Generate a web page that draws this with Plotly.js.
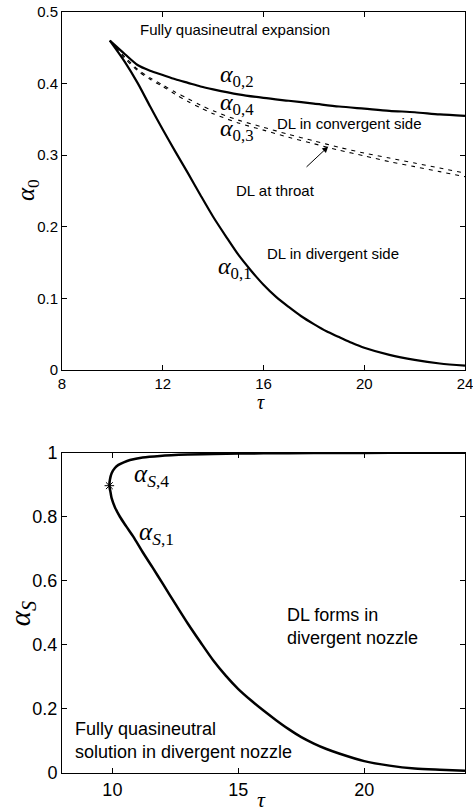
<!DOCTYPE html>
<html>
<head>
<meta charset="utf-8">
<script src="https://cdn.plot.ly/plotly-3.0.1.min.js"></script>
<style>html,body{margin:0;padding:0;background:#fff;}#chart{width:473px;height:812px;}</style>
</head>
<body>
<div id="chart"></div>
<script>
// ---- Top panel data: alpha_0 vs tau ----
const tau02 = [9.9, 10.5, 11, 11.5, 12, 12.5, 13, 13.5, 14, 15, 16, 17, 18, 19, 20, 21, 22, 23, 24];
const alpha02 = [0.460, 0.441, 0.426, 0.418, 0.412, 0.406, 0.401, 0.396, 0.392, 0.385, 0.380, 0.376, 0.372, 0.368, 0.365, 0.362, 0.360, 0.357, 0.355];

const tau04 = [9.9, 10.5, 11, 11.5, 12, 12.5, 13, 13.5, 14, 15, 16, 17, 18, 19, 20, 21, 22, 23, 24];
const alpha04 = [0.460, 0.437, 0.420, 0.408, 0.398, 0.388, 0.379, 0.370, 0.362, 0.349, 0.339, 0.329, 0.320, 0.311, 0.303, 0.296, 0.289, 0.282, 0.275];

const tau03 = [9.9, 10.5, 11, 11.5, 12, 12.5, 13, 13.5, 14, 15, 16, 17, 18, 19, 20, 21, 22, 23, 24];
const alpha03 = [0.460, 0.435, 0.418, 0.406, 0.396, 0.385, 0.375, 0.366, 0.358, 0.345, 0.335, 0.325, 0.316, 0.307, 0.299, 0.291, 0.284, 0.277, 0.270];

const tau01 = [9.9, 10.5, 11, 11.5, 12, 12.5, 13, 13.5, 14, 14.5, 15, 15.5, 16, 16.5, 17, 17.5, 18, 18.5, 19, 19.5, 20, 21, 22, 23, 24];
const alpha01 = [0.460, 0.430, 0.401, 0.368, 0.336, 0.305, 0.275, 0.244, 0.214, 0.187, 0.161, 0.139, 0.119, 0.102, 0.088, 0.075, 0.064, 0.054, 0.046, 0.038, 0.031, 0.021, 0.014, 0.009, 0.006];

// ---- Bottom panel data: alpha_S vs tau ----
const tauS4 = [9.88, 9.9, 9.97, 10.1, 10.24, 10.45, 10.7, 11.2, 11.89, 13.0, 14.0, 16.0, 18.0, 20.0, 22.0, 24.0];
const alphaS4 = [0.897, 0.915, 0.936, 0.952, 0.962, 0.970, 0.977, 0.985, 0.990, 0.994, 0.996, 0.998, 0.999, 0.999, 1.0, 1.0];

const tauS1 = [9.88, 9.93, 9.97, 10.1, 10.3, 10.55, 10.83, 11.2, 11.6, 12.0, 12.5, 13, 13.5, 14, 14.5, 15, 15.5, 16, 16.5, 17, 17.5, 18, 18.5, 19, 20, 21, 22, 23, 24];
const alphaS1 = [0.897, 0.875, 0.858, 0.830, 0.800, 0.770, 0.738, 0.690, 0.641, 0.591, 0.528, 0.466, 0.408, 0.352, 0.304, 0.262, 0.227, 0.195, 0.165, 0.137, 0.112, 0.092, 0.075, 0.061, 0.037, 0.023, 0.014, 0.010, 0.007];

const starTau = [9.88];
const starAlpha = [0.897];

// tick labels
const topXTicks = [8, 12, 16, 20, 24];
const topYTicks = [0, 0.1, 0.2, 0.3, 0.4, 0.5];
const botXTicks = [10, 15, 20];
const botYTicks = [0, 0.2, 0.4, 0.6, 0.8, 1];

const SANS = 'Liberation Sans, Arial, sans-serif';
const SERIF = 'Liberation Serif, Times New Roman, serif';

const solidTop = {color: '#000', width: 2.2, shape: 'spline', smoothing: 0.8};
const dashTop = {color: '#000', width: 1.1, dash: '4px,5px', shape: 'spline', smoothing: 0.8};
const solidBot = {color: '#000', width: 2.5, shape: 'spline', smoothing: 0.8};

const traces = [
  {x: tau02, y: alpha02, xaxis: 'x', yaxis: 'y', mode: 'lines', line: solidTop, name: 'α0,2'},
  {x: tau04, y: alpha04, xaxis: 'x', yaxis: 'y', mode: 'lines', line: dashTop, name: 'α0,4'},
  {x: tau03, y: alpha03, xaxis: 'x', yaxis: 'y', mode: 'lines', line: dashTop, name: 'α0,3'},
  {x: tau01, y: alpha01, xaxis: 'x', yaxis: 'y', mode: 'lines', line: solidTop, name: 'α0,1'},
  {x: tauS4, y: alphaS4, xaxis: 'x2', yaxis: 'y2', mode: 'lines', line: solidBot, name: 'αS,4'},
  {x: tauS1, y: alphaS1, xaxis: 'x2', yaxis: 'y2', mode: 'lines', line: solidBot, name: 'αS,1'},
  {x: starTau, y: starAlpha, xaxis: 'x2', yaxis: 'y2', mode: 'markers', marker: {symbol: 'asterisk-open', size: 8, color: '#000', line: {color: '#000', width: 1}}, name: 'star'}
];

const axisCommon = {
  showline: true, linecolor: '#000', linewidth: 1, mirror: 'ticks',
  ticks: 'inside', ticklen: 5, tickcolor: '#000', tickwidth: 1,
  showgrid: false, zeroline: false, automargin: false, ticklabeloverflow: 'allow'
};

const layout = {
  width: 473, height: 812,
  margin: {l: 62, r: 8, t: 12, b: 39},
  paper_bgcolor: '#fff', plot_bgcolor: '#fff',
  showlegend: false,
  font: {family: SANS, color: '#000'},
  xaxis: Object.assign({}, axisCommon, {
    domain: [0, 1], anchor: 'y', range: [8, 24], tickvals: topXTicks,
    tickfont: {size: 15, family: SANS}, title: {text: ''}
  }),
  yaxis: Object.assign({}, axisCommon, {
    domain: [0.5296, 1], anchor: 'x', range: [0, 0.5], tickvals: topYTicks,
    tickfont: {size: 15, family: SANS}, title: {text: ''}
  }),
  xaxis2: Object.assign({}, axisCommon, {
    domain: [0, 1], anchor: 'y2', range: [8, 24], tickvals: botXTicks,
    tickfont: {size: 18, family: SANS}, title: {text: ''}
  }),
  yaxis2: Object.assign({}, axisCommon, {
    domain: [0, 0.4209], anchor: 'x2', range: [0, 1], tickvals: botYTicks,
    tickfont: {size: 18, family: SANS}, title: {text: ''}
  }),
  annotations: [
    // axis titles
    {xref: 'paper', yref: 'paper', x: 0.495, y: 0.4875, yanchor: 'middle', text: '<i>τ</i>', showarrow: false, font: {family: SERIF, size: 20}},
    {xref: 'paper', yref: 'paper', x: 0.495, y: -0.0342, yanchor: 'middle', text: '<i>τ</i>', showarrow: false, font: {family: SERIF, size: 22}},
    {xref: 'paper', yref: 'paper', x: -0.0868, y: 0.766, xanchor: 'center', yanchor: 'middle', textangle: -90, text: '<i>α</i><sub>0</sub>', showarrow: false, font: {family: SERIF, size: 25}},
    {xref: 'paper', yref: 'paper', x: -0.0993, y: 0.210, xanchor: 'center', yanchor: 'middle', textangle: -90, text: '<i>α</i><sub><i>S</i></sub>', showarrow: false, font: {family: SERIF, size: 29}},
    // top panel labels
    {xref: 'x', yref: 'y', x: 14.88, y: 0.475, text: 'Fully quasineutral expansion', showarrow: false, font: {family: SANS, size: 15}},
    {xref: 'x', yref: 'y', x: 14.96, y: 0.411, text: '<i>α</i><sub>0,2</sub>', showarrow: false, font: {family: SERIF, size: 24}},
    {xref: 'x', yref: 'y', x: 14.96, y: 0.3715, text: '<i>α</i><sub>0,4</sub>', showarrow: false, font: {family: SERIF, size: 24}},
    {xref: 'x', yref: 'y', x: 14.96, y: 0.335, text: '<i>α</i><sub>0,3</sub>', showarrow: false, font: {family: SERIF, size: 24}},
    {xref: 'x', yref: 'y', x: 19.43, y: 0.3436, text: 'DL in convergent side', showarrow: false, font: {family: SANS, size: 15}},
    {xref: 'x', yref: 'y', x: 16.46, y: 0.250, text: 'DL at throat', showarrow: false, font: {family: SANS, size: 15}},
    {xref: 'x', yref: 'y', x: 18.57, y: 0.312, ax: 17.65, ay: 0.2817, axref: 'x', ayref: 'y', text: '', showarrow: true, arrowhead: 2, arrowsize: 1.2, arrowwidth: 1, arrowcolor: '#000', standoff: 0},
    {xref: 'x', yref: 'y', x: 18.77, y: 0.163, text: 'DL in divergent side', showarrow: false, font: {family: SANS, size: 15}},
    {xref: 'x', yref: 'y', x: 14.87, y: 0.142, text: '<i>α</i><sub>0,1</sub>', showarrow: false, font: {family: SERIF, size: 24}},
    // bottom panel labels
    {xref: 'x2', yref: 'y2', x: 11.56, y: 0.930, text: '<i>α</i><sub><i>S</i>,4</sub>', showarrow: false, font: {family: SERIF, size: 25}},
    {xref: 'x2', yref: 'y2', x: 11.76, y: 0.748, text: '<i>α</i><sub><i>S</i>,1</sub>', showarrow: false, font: {family: SERIF, size: 25}},
    {xref: 'x2', yref: 'y2', x: 16.85, y: 0.457, xanchor: 'left', align: 'left', text: 'DL forms in<br>divergent nozzle', showarrow: false, font: {family: SANS, size: 18}},
    {xref: 'x2', yref: 'y2', x: 8.42, y: 0.103, xanchor: 'left', align: 'left', text: 'Fully quasineutral<br>solution in divergent nozzle', showarrow: false, font: {family: SANS, size: 18}}
  ]
};

Plotly.newPlot('chart', traces, layout, {staticPlot: true, displayModeBar: false});
</script>
</body>
</html>
